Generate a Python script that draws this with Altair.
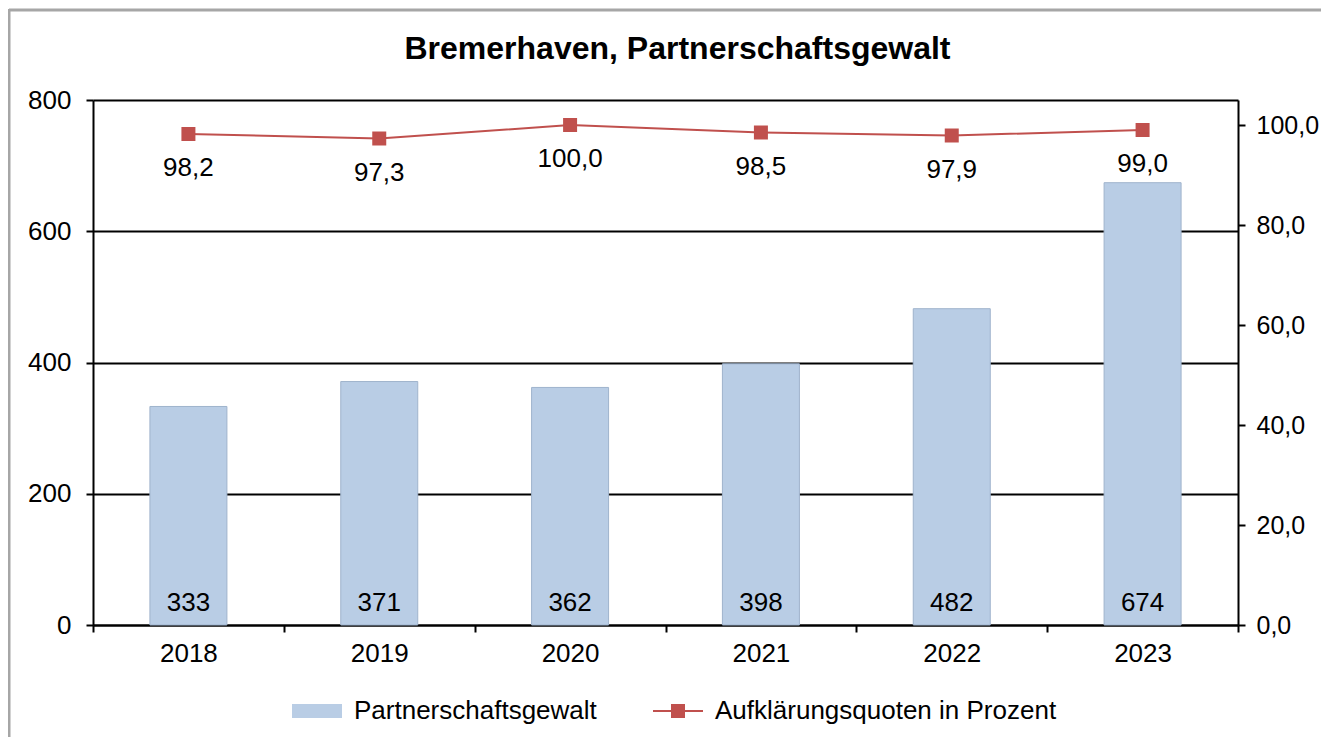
import altair as alt
import pandas as pd

# ---- data ----
years = ["2018", "2019", "2020", "2021", "2022", "2023"]
cases = [333, 371, 362, 398, 482, 674]
rates = [98.2, 97.3, 100.0, 98.5, 97.9, 99.0]
series_names = ["Partnerschaftsgewalt", "Aufklärungsquoten in Prozent"]
left_ticks = [0, 200, 400, 600, 800]
right_ticks = [0, 20, 40, 60, 80, 100]
chart_title = ["Bremerhaven, Partnerschaftsgewalt"]

df = pd.DataFrame({"year": years, "cases": cases, "rate": rates})
df["rate_label"] = [f"{r:.1f}".replace(".", ",") for r in rates]
legend_df = pd.DataFrame({"series": series_names})
title_df = pd.DataFrame({"t": chart_title})

FONT = "Liberation Sans"
BLUE = "#b9cde5"
RED = "#c0504d"
FRAME = "#a6a6a6"
W, H = 1145, 525
FS = 26
PAD_R, PAD_B = 83, 112

x_enc = alt.X(
    "year:N",
    title=None,
    scale=alt.Scale(paddingInner=0, paddingOuter=0),
    axis=alt.Axis(tickBand="extent", labelAngle=0, labelPadding=8, grid=False),
)
x_plain = alt.X("year:N")

base = alt.Chart(df)

bars = base.mark_bar(color=BLUE, stroke="#9fb3cc", strokeWidth=1, width=77).encode(
    x=x_enc,
    y=alt.Y(
        "cases:Q",
        title=None,
        scale=alt.Scale(domain=[0, 800], nice=False),
        axis=alt.Axis(values=left_ticks, grid=True, gridColor="black", gridWidth=2,
                      labelPadding=15, format="d"),
    ),
)
bar_text = base.mark_text(dy=-22, baseline="middle", fontSize=FS, font=FONT, color="black").encode(
    x=x_plain,
    y=alt.datum(0),
    text="cases:Q",
)

frame_top = alt.Chart(alt.Data(values=[{"a": 1}])).mark_rule(color=FRAME, strokeWidth=3).encode(
    x=alt.value(-84), x2=alt.value(W + PAD_R), y=alt.value(-90)
)
frame_left = alt.Chart(alt.Data(values=[{"a": 1}])).mark_rule(color=FRAME, strokeWidth=3).encode(
    x=alt.value(-84), y=alt.value(-91), y2=alt.value(H + PAD_B)
)
title_mark = alt.Chart(title_df).mark_text(
    font=FONT, fontSize=32, fontWeight="bold", color="black", baseline="alphabetic", align="center"
).encode(text="t:N", x=alt.value(W / 2 + 12), y=alt.value(-41))

left_layer = alt.layer(bars, bar_text, frame_top, frame_left, title_mark)

y_right = alt.Y(
    "rate:Q",
    title=None,
    scale=alt.Scale(domain=[0, 105], nice=False),
    axis=alt.Axis(orient="right", values=right_ticks, grid=False, labelPadding=11,
                  labelFontSize=25,
                  labelExpr="replace(format(datum.value, '.1f'), '.', ',')"),
)
line = base.mark_line(color=RED, strokeWidth=2).encode(x=x_plain, y=y_right)
points = base.mark_square(color=RED, size=196, opacity=1).encode(x=x_plain, y="rate:Q")
line_text = base.mark_text(dy=34, baseline="middle", fontSize=FS, font=FONT, color="black").encode(
    x=x_plain, y="rate:Q", text="rate_label:N"
)

leg = alt.Legend(
    title=None, orient="none", direction="horizontal", legendX=199, legendY=586,
    symbolSize=2500, symbolStrokeWidth=0, symbolOpacity=1, labelFontSize=FS, labelFont=FONT,
    labelColor="black", labelOffset=12, columnPadding=56, padding=0, labelLimit=0,
)
legend_layer = alt.Chart(legend_df).mark_point(filled=True, opacity=0).encode(
    color=alt.Color("series:N", scale=alt.Scale(domain=series_names, range=[BLUE, RED]), legend=leg),
    shape=alt.Shape(
        "series:N",
        scale=alt.Scale(
            domain=series_names,
            range=[
                "M-1,-0.28L1,-0.28L1,0.28L-1,0.28Z",
                "M-1,-0.04L1,-0.04L1,0.04L-1,0.04Z M-0.28,-0.28L0.28,-0.28L0.28,0.28L-0.28,0.28Z",
            ],
        ),
        legend=leg,
    ),
)

right_layer = alt.layer(line, points, line_text, legend_layer)

chart = (
    alt.layer(left_layer, right_layer)
    .resolve_scale(y="independent")
    .properties(
        width=W,
        height=H,
        autosize=alt.AutoSizeParams(type="none"),
        padding={"left": 85, "top": 92, "right": PAD_R, "bottom": PAD_B},
        background="white",
    )
    .configure_view(stroke=None)
    .configure_axis(
        domainColor="black", domainWidth=2, tickColor="black", tickWidth=2, tickSize=7,
        labelFont=FONT, labelFontSize=FS, labelColor="black",
    )
)

chart.save("out.html", embed_options={"renderer": "svg", "actions": False})
